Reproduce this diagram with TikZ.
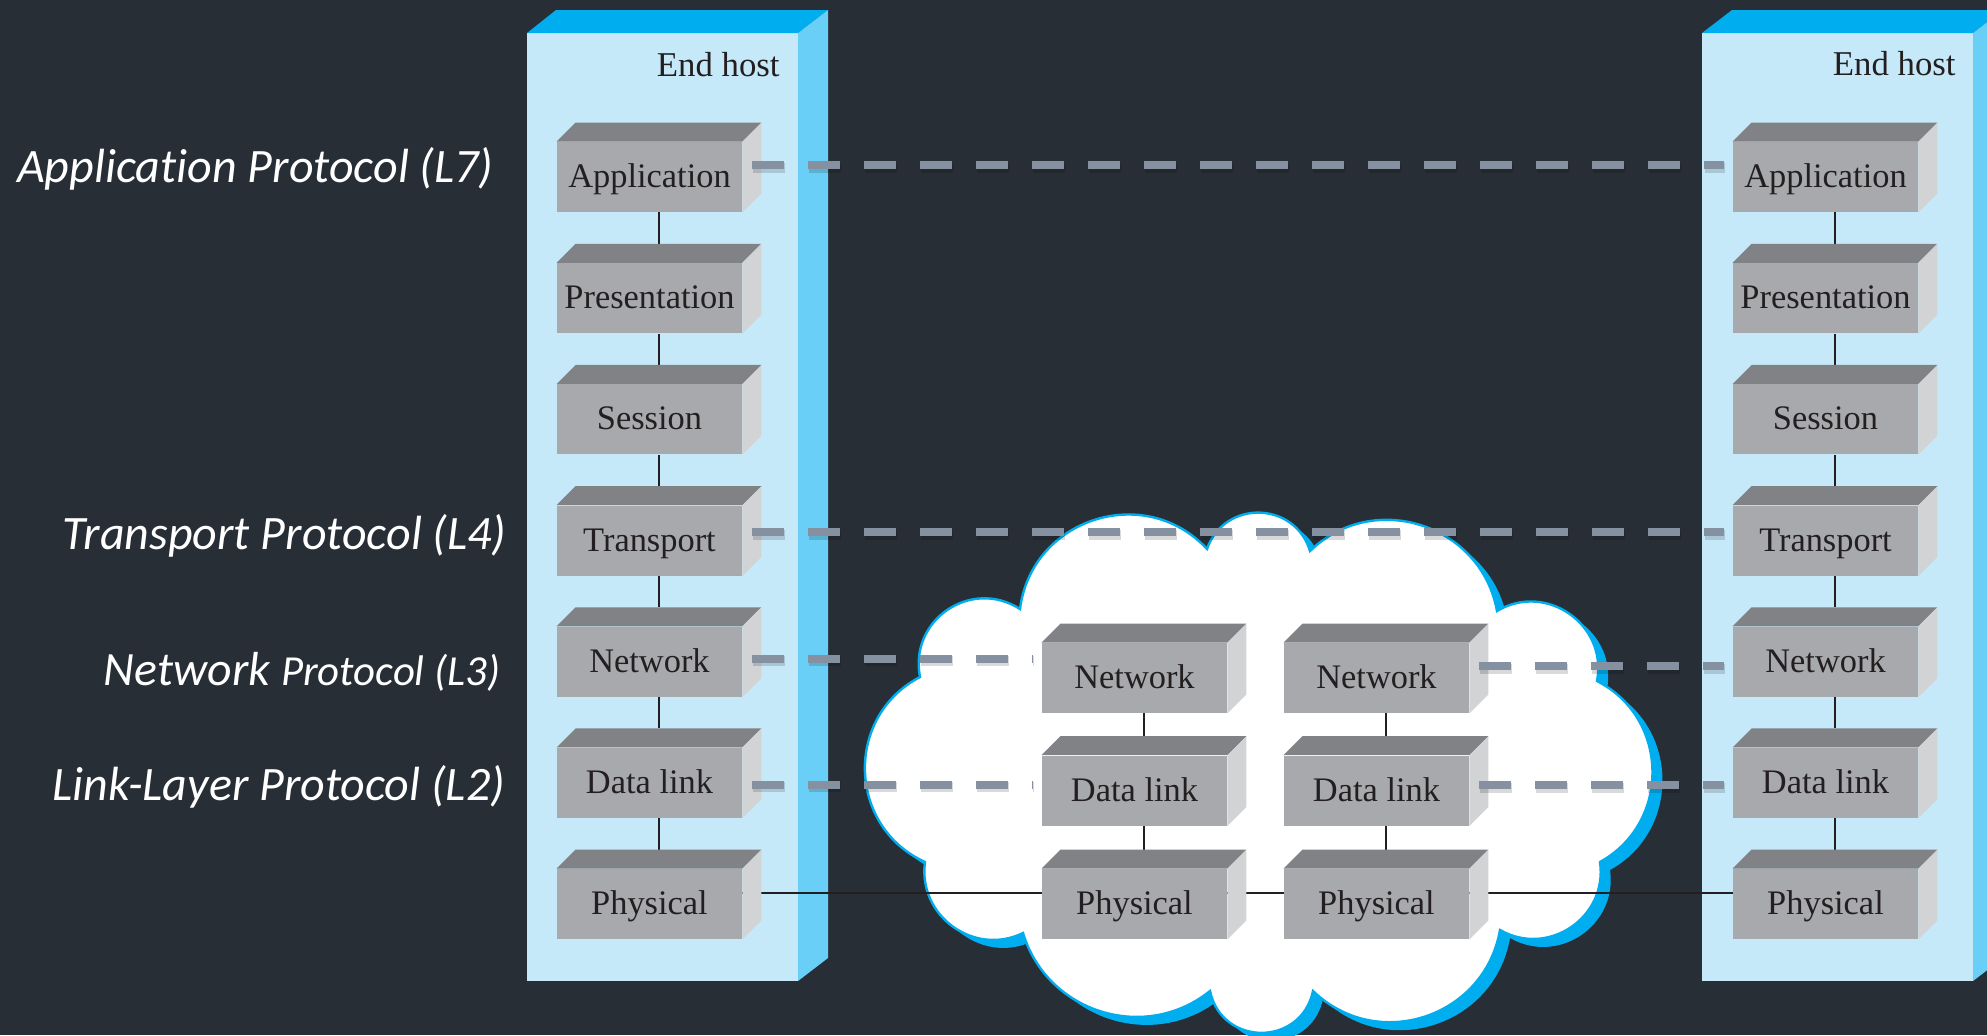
\documentclass[tikz,border=0pt]{standalone}
\usepackage{fontspec}
\setmainfont{Liberation Serif}
\newfontfamily\labelfont[Ligatures=NoCommon]{Carlito}
\usetikzlibrary{calc}
\definecolor{bgc}{HTML}{272E36}
\definecolor{hostfront}{HTML}{C6E9F9}
\definecolor{hosttop}{HTML}{00AEEF}
\definecolor{hostside}{HTML}{6ACFF6}
\definecolor{boxfront}{HTML}{A7A9AC}
\definecolor{boxtop}{HTML}{808285}
\definecolor{boxside}{HTML}{D1D3D4}
\definecolor{ink}{HTML}{231F20}
\definecolor{dashc}{HTML}{8590A1}
\definecolor{cloudblue}{HTML}{00AEEF}
\pgfdeclarelayer{bottom}
\pgfdeclarelayer{back}
\pgfdeclarelayer{mid}
\pgfsetlayers{bottom,back,mid,main}
\begin{document}
\begin{tikzpicture}[x=0.5pt,y=-0.5pt,
  layerbox/.style={rectangle, fill=boxfront, minimum width=92.5pt, minimum height=35pt, inner sep=0pt, text height=10.5pt, text depth=0pt, text=ink, font=\fontsize{17.2pt}{20pt}\selectfont},
  hostlabel/.style={anchor=base east, text=ink, inner sep=0pt, font=\fontsize{17.4pt}{20pt}\selectfont},
  protolabel/.style={anchor=base east, text=white, inner sep=0pt, font=\labelfont\itshape\fontsize{24pt}{28pt}\selectfont},
  stackline/.style={draw=ink, line width=1pt},
  wire/.style={draw=ink, line width=1.1pt},
  protoline/.style={draw=dashc, line width=4pt, dash pattern=on 16pt off 12pt},
  protoshadow/.style={draw=black, opacity=0.15, line width=5pt, dash pattern=on 16pt off 12pt},
  cloudshadow/.style={fill=cloudblue},
  cloudbody/.style={fill=white, draw=cloudblue, line width=1.2pt},
]
\useasboundingbox (0,0) rectangle (1987,1035);
\clip (0,0) rectangle (1987,1035);
\begin{pgfonlayer}{bottom}
  \fill[bgc] (0,0) rectangle (1987,1035);
\end{pgfonlayer}

% host panels and cloud
\begin{pgfonlayer}{back}
  \fill[hostfront] (527,33) rectangle (798,981);
  \fill[hosttop] (527,33) -- (556,10) -- (828,10) -- (798,33) -- cycle;
  \fill[hostside] (798,33) -- (828,10) -- (828,958) -- (798,981) -- cycle;
  \fill[hostfront] (1702,33) rectangle (1973,981);
  \fill[hosttop] (1702,33) -- (1732,10) -- (2003,10) -- (1973,33) -- cycle;
  \fill[hostside] (1973,33) -- (2003,10) -- (2003,958) -- (1973,981) -- cycle;
  \foreach \dx/\dy/\st in {10/8/cloudshadow, 0/0/cloudbody}{
    \path[\st, shift={(\dx,\dy)}] (920,677)
      to[bend left=67, looseness=1.23] (1020,609)
      to[bend left=65, looseness=1.19] (1207,549)
      to[bend left=72, looseness=1.30] (1310,551)
      to[bend left=62, looseness=1.15] (1497,611)
      to[bend left=66, looseness=1.20] (1597,681)
      to[bend left=62, looseness=1.15] (1600,862)
      to[bend left=64, looseness=1.18] (1500,930)
      to[bend left=62, looseness=1.16] (1313,991)
      to[bend left=78, looseness=1.42] (1210,991)
      to[bend left=56, looseness=1.09] (1023,933)
      to[bend left=62, looseness=1.15] (925,862)
      to[bend left=64, looseness=1.18] (920,677) -- cycle;
  }
\end{pgfonlayer}

\node[hostlabel] (lhost) at (780,76) {End host};
\node[hostlabel] (rhost) at (1956,75) {End host};

% left end host stack
\node[layerbox] (lapp)   at (649.5,177)   {Application};
\node[layerbox] (lpres)  at (649.5,298.2) {Presentation};
\node[layerbox] (lsess)  at (649.5,419.3) {Session};
\node[layerbox] (ltrans) at (649.5,540.5) {Transport};
\node[layerbox] (lnet)   at (649.5,661.7) {Network};
\node[layerbox] (llink)  at (649.5,782.8) {Data link};
\node[layerbox] (lphys)  at (649.5,904)   {Physical};
% right end host stack
\node[layerbox] (rapp)   at (1825.5,177)   {Application};
\node[layerbox] (rpres)  at (1825.5,298.2) {Presentation};
\node[layerbox] (rsess)  at (1825.5,419.3) {Session};
\node[layerbox] (rtrans) at (1825.5,540.5) {Transport};
\node[layerbox] (rnet)   at (1825.5,661.7) {Network};
\node[layerbox] (rlink)  at (1825.5,782.8) {Data link};
\node[layerbox] (rphys)  at (1825.5,904)   {Physical};
% routers in the cloud
\node[layerbox] (anet)  at (1134.5,678)   {Network};
\node[layerbox] (alink) at (1134.5,790.5) {Data link};
\node[layerbox] (aphys) at (1134.5,904)   {Physical};
\node[layerbox] (bnet)  at (1376.5,678)   {Network};
\node[layerbox] (blink) at (1376.5,790.5) {Data link};
\node[layerbox] (bphys) at (1376.5,904)   {Physical};

% 3D faces of the layer boxes
\foreach \n in {lapp,lpres,lsess,ltrans,lnet,llink,lphys,rapp,rpres,rsess,rtrans,rnet,rlink,rphys,anet,alink,aphys,bnet,blink,bphys}{
  \fill[boxtop] (\n.north west) -- ([shift={(19,-19)}]\n.north west) -- ([shift={(19,-19)}]\n.north east) -- (\n.north east) -- cycle;
  \fill[boxside] (\n.north east) -- ([shift={(19,-19)}]\n.north east) -- ([shift={(19,-19)}]\n.south east) -- (\n.south east) -- cycle;
}

% vertical links and physical wires
\begin{pgfonlayer}{mid}
  \foreach \a/\b in {lapp/lpres,lpres/lsess,lsess/ltrans,ltrans/lnet,lnet/llink,llink/lphys,
                     rapp/rpres,rpres/rsess,rsess/rtrans,rtrans/rnet,rnet/rlink,rlink/rphys,
                     anet/alink,alink/aphys,bnet/blink,blink/bphys}{
    \draw[stackline] ([xshift=4.75pt]\a.south) -- ([shift={(9.5,-19)}]\b.north);
  }
  \draw[wire] ([yshift=5.5pt]lphys.east) -- ([yshift=5.5pt]aphys.west);
  \draw[wire] ([yshift=5.5pt]aphys.east) -- ([yshift=5.5pt]bphys.west);
  \draw[wire] ([yshift=5.5pt]bphys.east) -- ([yshift=5.5pt]rphys.west);
\end{pgfonlayer}

% peer protocol dashed lines
\coordinate (d1s) at ([shift={(10,-12)}]lapp.east);
\coordinate (d1e) at ([shift={(-9,-12)}]rapp.west);
\coordinate (d2s) at ([shift={(10,-8.5)}]ltrans.east);
\coordinate (d2e) at ([shift={(-9,-8.5)}]rtrans.west);
\coordinate (d3s) at ([shift={(10,-3)}]lnet.east);
\coordinate (d3e) at ($(d3s -| anet.west)+(-9,0)$);
\coordinate (d4s) at ([shift={(10,-12)}]bnet.east);
\coordinate (d4e) at ($(d4s -| rnet.west)+(-9,0)$);
\coordinate (d5s) at ([shift={(10,2)}]llink.east);
\coordinate (d5e) at ($(d5s -| alink.west)+(-9,0)$);
\coordinate (d6s) at ([shift={(10,-5.5)}]blink.east);
\coordinate (d6e) at ($(d6s -| rlink.west)+(-9,0)$);
\foreach \s/\e in {d1s/d1e,d2s/d2e,d3s/d3e,d4s/d4e,d5s/d5e,d6s/d6e}{
  \draw[protoshadow] ([shift={(1,2.5)}]\s) -- ([shift={(1,2.5)}]\e);
  \draw[protoline] (\s) -- (\e);
}

% protocol labels
\node[protolabel] (l7) at (494,182) {Application Protocol (L7)};
\node[protolabel] (l4) at (507,549) {Transport Protocol (L4)};
\node[protolabel] (l3) at (500.5,685) {{\fontsize{23.9pt}{28pt}\selectfont Network} {\fontsize{21.4pt}{26pt}\selectfont Protocol (L3)}};
\node[protolabel] (l2) at (505.5,800) {Link-Layer Protocol (L2)};
\end{tikzpicture}
\end{document}
